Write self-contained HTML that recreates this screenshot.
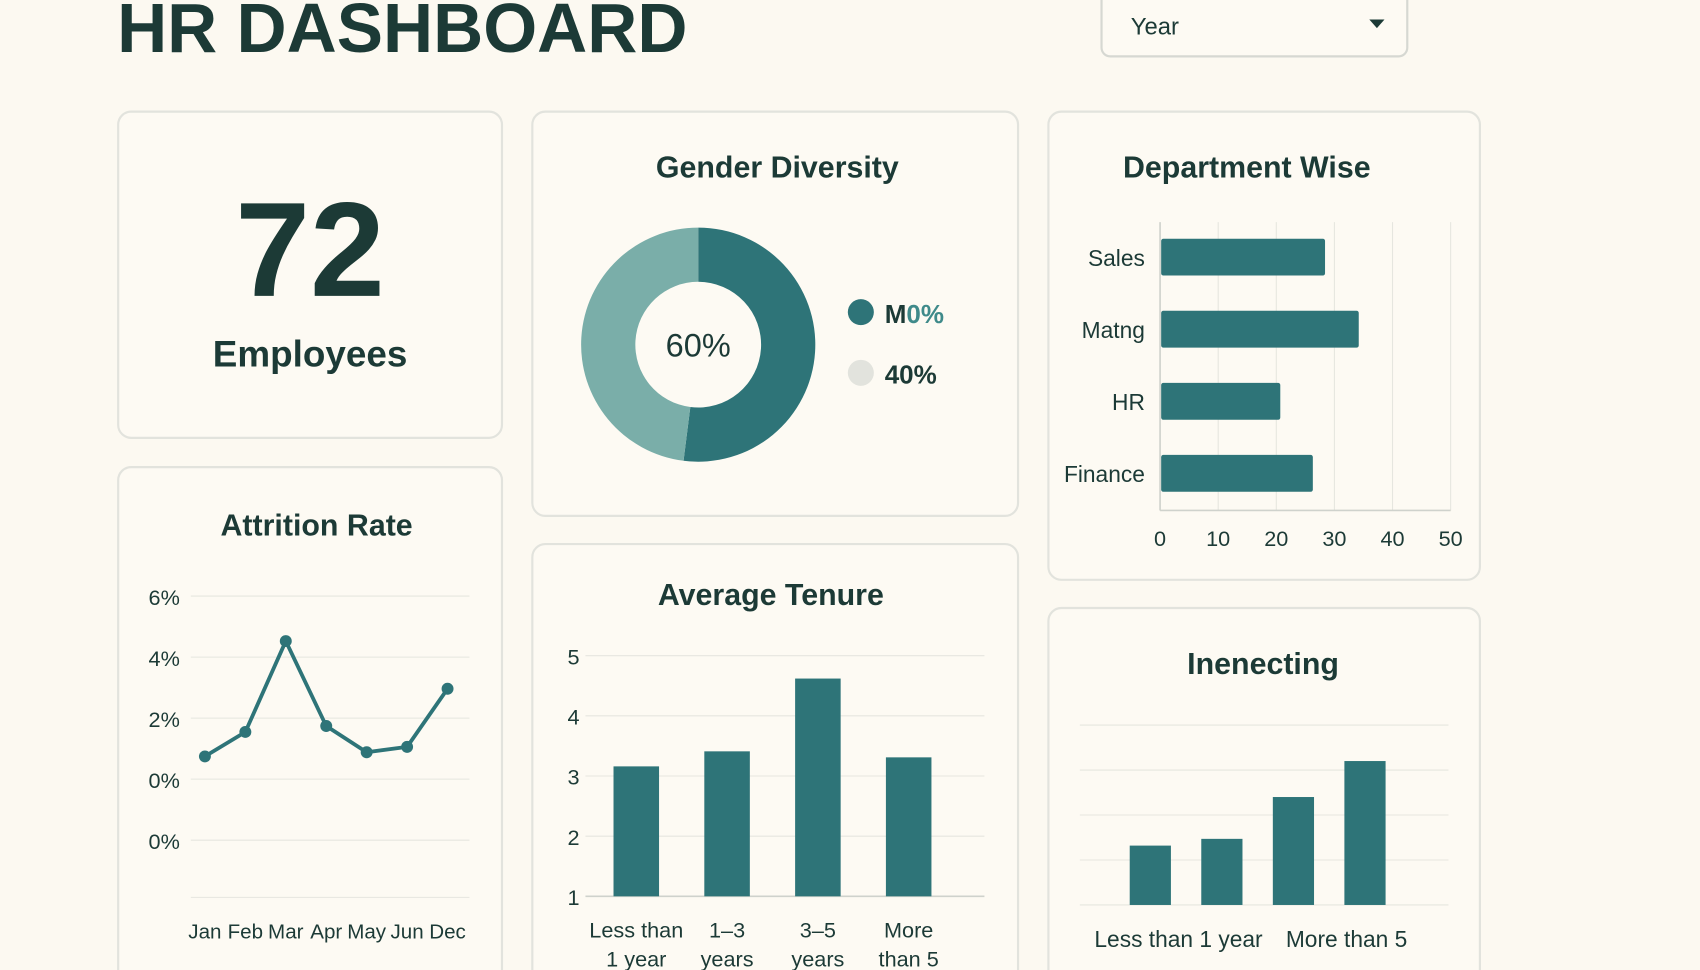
<!DOCTYPE html>
<html><head><meta charset="utf-8">
<style>
html,body{margin:0;padding:0;background:#fcf9f1;}
svg{display:block;font-family:"Liberation Sans",sans-serif;}
</style></head>
<body>
<svg id="dash" width="1700" height="970" viewBox="0 0 1568 895" preserveAspectRatio="none" xmlns="http://www.w3.org/2000/svg">
<rect x="0" y="0" width="1568" height="895" fill="#fcf9f1"/>
<text x="108" y="48" font-size="64" font-weight="bold" fill="#1c3a36">HR DASHBOARD</text>
<g>
<rect x="1016" y="-12" width="282" height="64" rx="8" fill="#fdfaf3" stroke="#d6d8d2" stroke-width="2"/>
<text x="1043" y="32" font-size="22" fill="#1c3a36">Year</text>
<path d="M1263 18 L1277 18 L1270 26 Z" fill="#1c3a36"/>
</g>
<g fill="#fdfaf3" stroke="#e2e3dd" stroke-width="2">
<rect x="109" y="103" width="354" height="301" rx="12"/>
<rect x="109" y="431" width="354" height="480" rx="12"/>
<rect x="491" y="103" width="448" height="373" rx="12"/>
<rect x="491" y="502" width="448" height="410" rx="12"/>
<rect x="967" y="103" width="398" height="432" rx="12"/>
<rect x="967" y="561" width="398" height="350" rx="12"/>
</g>
<text x="286" y="273" font-size="124" font-weight="bold" fill="#1c3a36" text-anchor="middle">72</text>
<text x="286" y="338" font-size="34" font-weight="bold" fill="#1c3a36" text-anchor="middle">Employees</text>
<g font-weight="bold" fill="#1c3a36" font-size="28" text-anchor="middle">
<text x="717" y="164">Gender Diversity</text>
<text x="1150" y="164">Department Wise</text>
<text x="292" y="494">Attrition Rate</text>
<text x="711" y="558">Average Tenure</text>
<text x="1165" y="622">Inenecting</text>
</g>
<g id="donut"></g>
<g id="legend">
<circle cx="794" cy="288" r="12" fill="#2e7478"/>
<text x="816" y="298" font-size="24" font-weight="bold" fill="#1c3a36">M<tspan fill="#3f8a8a">0%</tspan></text>
<circle cx="794" cy="344" r="12" fill="#e2e3dd"/>
<text x="816" y="354" font-size="24" font-weight="bold" fill="#1c3a36">40%</text>
</g>
<g id="dept"></g>
<g id="attr"></g>
<g id="tenure"></g>
<g id="inen"></g>
</svg>
<script>
const NS="http://www.w3.org/2000/svg";
function mk(parent,tag,attrs,txt){const e=document.createElementNS(NS,tag);for(const k in attrs)e.setAttribute(k,attrs[k]);if(txt!==undefined)e.textContent=txt;parent.appendChild(e);return e;}
const TEAL="#2e7478",TXT="#1c3a36",GRID="#e6e6df";

// Gender donut
const genderLabels=["Male","Female"];
const genderValues=[52,48];
const genderCenterLabel="60%";
(function(){
const g=document.getElementById("donut"),cx=644,cy=318,ro=108,ri=58;
const total=genderValues.reduce((a,b)=>a+b,0);const cols=[TEAL,"#7aaea9"];let a0=-Math.PI/2;
genderValues.forEach((v,i)=>{const a1=a0+v/total*2*Math.PI;const lg=(a1-a0)>Math.PI?1:0;
const p=`M${cx+ro*Math.cos(a0)} ${cy+ro*Math.sin(a0)} A${ro} ${ro} 0 ${lg} 1 ${cx+ro*Math.cos(a1)} ${cy+ro*Math.sin(a1)} L${cx+ri*Math.cos(a1)} ${cy+ri*Math.sin(a1)} A${ri} ${ri} 0 ${lg} 0 ${cx+ri*Math.cos(a0)} ${cy+ri*Math.sin(a0)} Z`;
const s=mk(g,"path",{d:p,fill:cols[i]});


a0=a1;});
const t=mk(g,"text",{x:cx,y:cy+11,"font-size":30,fill:TXT,"text-anchor":"middle"},genderCenterLabel);


})();

// Department
const deptCategories=["Sales","Matng","HR","Finance"];
const deptValues=[28.2,34,20.5,26.1];
const deptTicks=[0,10,20,30,40,50];
(function(){
const g=document.getElementById("dept");const x0=1070,x1=1338,y0=205,y1=471;
const xs=v=>x0+(v/50)*(x1-x0);const band=(y1-y0)/deptCategories.length;
deptTicks.forEach(t=>{if(t>0)mk(g,"line",{x1:xs(t),x2:xs(t),y1:y0,y2:y1,stroke:GRID,"stroke-width":1});
const l=mk(g,"text",{x:xs(t),y:504,"font-size":20,fill:TXT,"text-anchor":"middle"},t);

});
mk(g,"line",{x1:x0,x2:x0,y1:y0,y2:y1,stroke:"#cfd2cc","stroke-width":1.5});
mk(g,"line",{x1:x0,x2:x1,y1:y1,y2:y1,stroke:"#cfd2cc","stroke-width":1.5});
deptCategories.forEach((c,i)=>{const cy=y0+band*(i+0.5)-1;
const b=mk(g,"rect",{x:x0+1,y:cy-17,width:xs(deptValues[i])-x0,height:34,rx:2,fill:TEAL});


const l=mk(g,"text",{x:x0-14,y:cy+8,"font-size":21,fill:TXT,"text-anchor":"end"},c);

});
})();

// Attrition
const attrMonths=["Jan","Feb","Mar","Apr","May","Jun","Dec"];
const attrValues=[0.73,1.55,4.6,1.75,0.87,1.05,3.0];
const attrTickLabels=["6%","4%","2%","0%","0%"];
(function(){
const g=document.getElementById("attr");const ys=v=>718-v*27.5;const xs=i=>189+i*37.3;
attrTickLabels.forEach((t,i)=>{const y=550+i*56.3;mk(g,"line",{x1:176,x2:433,y1:y,y2:y,stroke:GRID,"stroke-width":1});
const l=mk(g,"text",{x:137,y:y+8,"font-size":20,fill:TXT},t);

});
mk(g,"line",{x1:176,x2:433,y1:828,y2:828,stroke:GRID,"stroke-width":1});
const pts=attrValues.map((v,i)=>xs(i)+","+ys(v)).join(" ");
const pl=mk(g,"polyline",{points:pts,fill:"none",stroke:TEAL,"stroke-width":3.5,"stroke-linejoin":"round"});


attrValues.forEach((v,i)=>{const c=mk(g,"circle",{cx:xs(i),cy:ys(v),r:5.5,fill:TEAL});


const l=mk(g,"text",{x:xs(i),y:866,"font-size":19,fill:TXT,"text-anchor":"middle"},attrMonths[i]);

});
})();

// Tenure
const tenureCategories=[["Less than","1 year"],["1–3","years"],["3–5","years"],["More","than 5"]];
const tenureValues=[3.16,3.41,4.62,3.31];
const tenureTicks=[1,2,3,4,5];
(function(){
const g=document.getElementById("tenure");const ys=v=>827-(v-1)*55.5;const x0=545,bw=83.75;
tenureTicks.forEach(t=>{mk(g,"line",{x1:540,x2:908,y1:ys(t),y2:ys(t),stroke:t===1?"#cfd2cc":GRID,"stroke-width":t===1?1.5:1});
const l=mk(g,"text",{x:529,y:ys(t)+8,"font-size":20,fill:TXT,"text-anchor":"middle"},t);

});
tenureCategories.forEach((c,i)=>{const cx=x0+bw*(i+0.5);
const b=mk(g,"rect",{x:cx-21,y:ys(tenureValues[i]),width:42,height:ys(1)-ys(tenureValues[i]),fill:TEAL});


c.forEach((ln,j)=>{const l=mk(g,"text",{x:cx,y:865+j*27,"font-size":20,fill:TXT,"text-anchor":"middle"},ln);

});});
})();

// Inenecting
const inenCategories=["Less than 1 year","1-3 years","3-5 years","More than 5"];
const inenValues=[1.32,1.47,2.4,3.2];
const inenGrid=[0,1,2,3,4];
const inenAxisLabels=["Less than 1 year","More than 5"];
(function(){
const g=document.getElementById("inen");const ys=v=>835-v*41.5;const x0=1028,bw=66;
inenGrid.forEach(t=>mk(g,"line",{x1:996,x2:1336,y1:ys(t),y2:ys(t),stroke:GRID,"stroke-width":1}));
inenCategories.forEach((c,i)=>{const cx=x0+bw*(i+0.5);
const b=mk(g,"rect",{x:cx-19,y:ys(inenValues[i]),width:38,height:ys(0)-ys(inenValues[i]),fill:TEAL});

});
const l1=mk(g,"text",{x:1087,y:874,"font-size":21,fill:TXT,"text-anchor":"middle"},inenAxisLabels[0]);


const l2=mk(g,"text",{x:1242,y:874,"font-size":21,fill:TXT,"text-anchor":"middle"},inenAxisLabels[1]);


})();
</script>
</body></html>
